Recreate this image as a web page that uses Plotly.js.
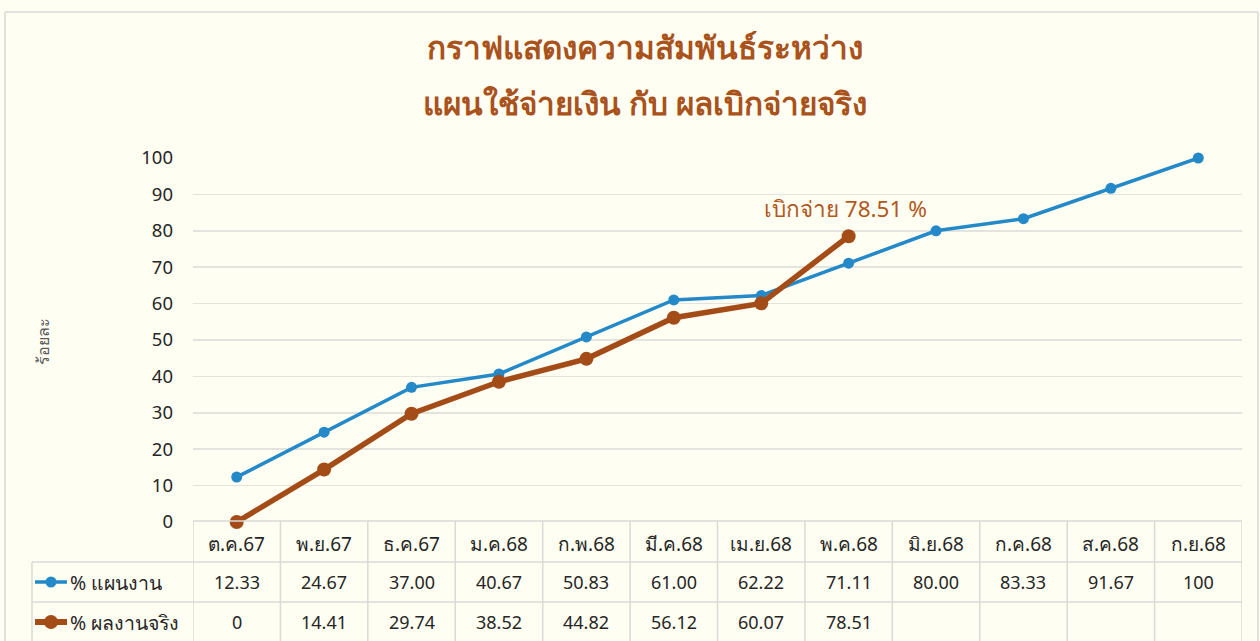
<!DOCTYPE html>
<html>
<head>
<meta charset="utf-8">
<script src="https://cdn.plot.ly/plotly-3.0.1.min.js"></script>
<style>
  html, body { margin: 0; padding: 0; background: #FFFEF2; }
  #chart { width: 1260px; height: 641px; }
</style>
</head>
<body>
<div id="chart"></div>
<script>
// ---- data ----
const categories = ['ต.ค.67','พ.ย.67','ธ.ค.67','ม.ค.68','ก.พ.68','มี.ค.68','เม.ย.68','พ.ค.68','มิ.ย.68','ก.ค.68','ส.ค.68','ก.ย.68'];
const planValues = [12.33, 24.67, 37.00, 40.67, 50.83, 61.00, 62.22, 71.11, 80.00, 83.33, 91.67, 100];
const actualValues = [0, 14.41, 29.74, 38.52, 44.82, 56.12, 60.07, 78.51];
const planName = '% แผนงาน';
const actualName = '% ผลงานจริง';
const titleLines = ['กราฟแสดงความสัมพันธ์ระหว่าง', 'แผนใช้จ่ายเงิน กับ ผลเบิกจ่ายจริง'];
const yTitle = 'ร้อยละ';
const yTicks = [0,10,20,30,40,50,60,70,80,90,100];

// ---- styles ----
const W = 1260, H = 641;
const M = {l: 193, r: 18, t: 158, b: 119};
const blue = '#2389C8', brown = '#A44C17', titleColor = '#A9521B';
const gridColor = '#E4E4DE', tableColor = '#DADAD6', textColor = '#262626';
const font = 'Noto Sans, Open Sans, sans-serif';

const pw = W - M.l - M.r, ph = H - M.t - M.b;
const px = x => (x - M.l) / pw;
const py = y => (H - M.b - y) / ph;

const fmt = v => (v === 0 || v === 100) ? String(v) : v.toFixed(2);

const traces = [
  {x: categories, y: planValues, name: planName, type: 'scatter', mode: 'lines+markers',
   line: {color: blue, width: 3.5}, marker: {color: blue, size: 11}, cliponaxis: false},
  {x: categories.slice(0, actualValues.length), y: actualValues, name: actualName, type: 'scatter', mode: 'lines+markers',
   line: {color: brown, width: 5.5}, marker: {color: brown, size: 14}, cliponaxis: false}
];

const shapes = [];
const annotations = [];

// outer border
shapes.push({type:'line', xref:'paper', yref:'paper', x0:px(5), x1:px(1258), y0:py(12), y1:py(12), line:{color:'#E2E2DC', width:2}});
shapes.push({type:'line', xref:'paper', yref:'paper', x0:px(5), x1:px(5), y0:py(12), y1:py(641), line:{color:'#E2E2DC', width:2}});
shapes.push({type:'line', xref:'paper', yref:'paper', x0:px(1258), x1:px(1258), y0:py(12), y1:py(641), line:{color:'#E2E2DC', width:2}});

// table lines
const rowTops = [521, 562, 602, 642];
shapes.push({type:'line', xref:'x', yref:'paper', x0:-0.5, x1:categories.length-0.5, y0:py(rowTops[0]), y1:py(rowTops[0]), line:{color:tableColor, width:1.5}});
for (let r = 1; r < 3; r++) {
  shapes.push({type:'line', xref:'paper', yref:'paper', x0:px(32), x1:1, y0:py(rowTops[r]), y1:py(rowTops[r]), line:{color:tableColor, width:1.5}});
}
for (let i = 0; i <= categories.length; i++) {
  shapes.push({type:'line', xref:'x', yref:'paper', x0:i-0.5, x1:i-0.5, y0:py(rowTops[0]), y1:py(641), line:{color:tableColor, width:1.5}});
}
shapes.push({type:'line', xref:'paper', yref:'paper', x0:px(32), x1:px(32), y0:py(rowTops[1]), y1:py(641), line:{color:tableColor, width:1.5}});

// legend icons
const rowMid = r => (rowTops[r] + rowTops[r+1]) / 2;
shapes.push({type:'line', xref:'paper', yref:'paper', x0:px(35), x1:px(67), y0:py(rowMid(1)), y1:py(rowMid(1)), line:{color:blue, width:3.5}});
shapes.push({type:'circle', xref:'paper', yref:'paper', x0:px(45.5), x1:px(56.5), y0:py(rowMid(1)-5.5), y1:py(rowMid(1)+5.5), fillcolor:blue, line:{color:blue, width:0}});
shapes.push({type:'line', xref:'paper', yref:'paper', x0:px(35), x1:px(67), y0:py(rowMid(2)), y1:py(rowMid(2)), line:{color:brown, width:6}});
shapes.push({type:'circle', xref:'paper', yref:'paper', x0:px(44), x1:px(58), y0:py(rowMid(2)-7), y1:py(rowMid(2)+7), fillcolor:brown, line:{color:brown, width:0}});

const cellFont = {family: font, size: 18, color: textColor};
const headFont = {family: font, size: 19, color: textColor};
const legFont = {family: font, size: 19.5, color: textColor};
annotations.push({xref:'paper', yref:'paper', x:px(68), y:py(rowMid(1)), text:planName, showarrow:false, xanchor:'left', yanchor:'middle', font:legFont});
annotations.push({xref:'paper', yref:'paper', x:px(68), y:py(rowMid(2)), text:actualName, showarrow:false, xanchor:'left', yanchor:'middle', font:legFont});

categories.forEach((c, i) => {
  annotations.push({xref:'x', yref:'paper', x:c, y:py(rowMid(0)+2), text:c, showarrow:false, xanchor:'center', yanchor:'middle', font:headFont});
  annotations.push({xref:'x', yref:'paper', x:c, y:py(rowMid(1)), text:fmt(planValues[i]), showarrow:false, xanchor:'center', yanchor:'middle', font:cellFont});
  if (i < actualValues.length) {
    annotations.push({xref:'x', yref:'paper', x:c, y:py(rowMid(2)), text:fmt(actualValues[i]), showarrow:false, xanchor:'center', yanchor:'middle', font:cellFont});
  }
});

// titles
annotations.push({xref:'paper', yref:'paper', x:px(645), y:py(47), text:'<b>'+titleLines[0]+'</b>', showarrow:false, xanchor:'center', yanchor:'middle', font:{family:font, size:31.5, color:titleColor}});
annotations.push({xref:'paper', yref:'paper', x:px(645), y:py(102), text:'<b>'+titleLines[1]+'</b>', showarrow:false, xanchor:'center', yanchor:'middle', font:{family:font, size:31.5, color:titleColor}});

// y title
annotations.push({xref:'paper', yref:'paper', x:px(43), y:py(342), text:yTitle, textangle:-90, showarrow:false, xanchor:'center', yanchor:'middle', font:{family:font, size:16, color:'#595959'}});

// callout for latest actual
const lastIdx = actualValues.length - 1;
annotations.push({xref:'x', yref:'y', x:categories[lastIdx], y:actualValues[lastIdx], yshift:28, xshift:-3,
  text:'เบิกจ่าย ' + actualValues[lastIdx] + ' %', showarrow:false, xanchor:'center', yanchor:'middle',
  font:{family:font, size:22.5, color:'#B0581F'}});

const layout = {
  width: W, height: H,
  margin: M,
  paper_bgcolor: '#FFFEF2',
  plot_bgcolor: '#FFFEF2',
  showlegend: false,
  xaxis: {type:'category', range:[-0.5, categories.length-0.5], showticklabels:false, showgrid:false, zeroline:false, showline:false, ticks:''},
  yaxis: {range:[0,100], tickvals:yTicks, ticktext:yTicks.map(String), showgrid:true, gridcolor:gridColor, gridwidth:1.5, zeroline:false, showline:false, ticks:'', ticklabelstandoff:19,
          tickfont:{family:font, size:18.5, color:textColor}},
  shapes: shapes,
  annotations: annotations
};

Plotly.newPlot('chart', traces, layout, {displayModeBar:false, staticPlot:true});
</script>
</body>
</html>
